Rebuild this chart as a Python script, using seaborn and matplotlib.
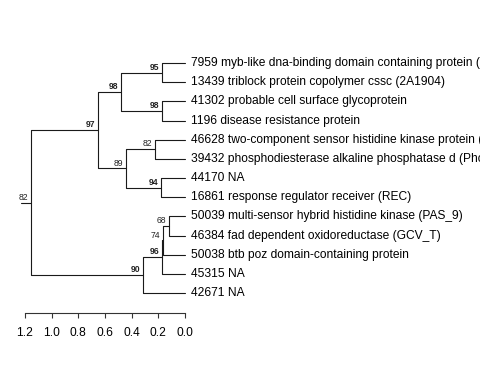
import numpy as np
import pandas as pd
import matplotlib
matplotlib.use('Agg')
import matplotlib.pyplot as plt
import seaborn as sns

# Feuilles (de haut en bas)
leaf_labels = [
    "7959 myb-like dna-binding domain containing protein (Myb_DNA-binding)",
    "13439 triblock protein copolymer cssc (2A1904)",
    "41302 probable cell surface glycoprotein",
    "1196 disease resistance protein",
    "46628 two-component sensor histidine kinase protein (HisKA)",
    "39432 phosphodiesterase alkaline phosphatase d (PhoD)",
    "44170 NA",
    "16861 response regulator receiver (REC)",
    "50039 multi-sensor hybrid histidine kinase (PAS_9)",
    "46384 fad dependent oxidoreductase (GCV_T)",
    "50038 btb poz domain-containing protein",
    "45315 NA",
    "42671 NA",
]

# Noeuds internes : enfants ('L' = feuille, 'N' = noeud), hauteur, support
node_names = ["n95", "n98b", "n98a", "n82", "n94", "n89", "n97",
              "n68", "n74", "n96", "n90", "root"]
node_children = [
    [("L", 0), ("L", 1)],
    [("L", 2), ("L", 3)],
    [("N", "n95"), ("N", "n98b")],
    [("L", 4), ("L", 5)],
    [("L", 6), ("L", 7)],
    [("N", "n82"), ("N", "n94")],
    [("N", "n98a"), ("N", "n89")],
    [("L", 8), ("L", 9)],
    [("N", "n68"), ("L", 10)],
    [("N", "n74"), ("L", 11)],
    [("N", "n96"), ("L", 12)],
    [("N", "n97"), ("N", "n90")],
]
node_height = [0.17, 0.17, 0.48, 0.223, 0.18, 0.443, 0.65,
               0.118, 0.163, 0.175, 0.313, 1.157]
node_support = [95, 98, 98, 82, 94, 89, 97, 68, 74, 96, 90, 82]
root_edge = 0.075

scale_ticks = [1.2, 1.0, 0.8, 0.6, 0.4, 0.2, 0.0]

# ============================================
# Positions des noeuds
# ============================================
pos = {}
for name, kids, h in zip(node_names, node_children, node_height):
    ys = []
    for kind, ref in kids:
        ys.append(float(ref) if kind == "L" else pos[ref][1])
    pos[name] = (h, np.mean(ys))

segs = []
k = 0
for name, kids in zip(node_names, node_children):
    px, py = pos[name]
    for kind, ref in kids:
        cx, cy = (0.0, float(ref)) if kind == "L" else pos[ref]
        segs += [(px, py, k), (px, cy, k), (cx, cy, k)]
        k += 1
rx, ry = pos["root"]
segs += [(rx + root_edge, ry, k), (rx, ry, k)]
df = pd.DataFrame(segs, columns=["x", "y", "seg"])

# ============================================
# Figure
# ============================================
sns.set_theme(style="white")
plt.rcParams['font.family'] = ['Liberation Sans', 'DejaVu Sans']

fig = plt.figure(figsize=(4.8, 3.84), dpi=100)
ax = fig.add_axes([0, 0, 1, 1])
sns.lineplot(data=df, x="x", y="y", units="seg", estimator=None, sort=False,
             color="#1a1a1a", lw=0.8, legend=False, ax=ax)
ax.set_xlim(1.3875, -2.2125)
ax.set_ylim(16.745, -3.286)
ax.axis("off")

for i, lab in enumerate(leaf_labels):
    ax.annotate(lab, (0.0, i), xytext=(4.5, 0), textcoords="offset points",
                ha="left", va="center", fontsize=8.65, color="black",
                annotation_clip=False)

for name, sup in zip(node_names, node_support):
    x, y = pos[name]
    ax.annotate(str(sup), (x, y), xytext=(-2.0, 2.0), textcoords="offset points",
                ha="right", va="baseline", fontsize=6.2,
                fontweight="bold" if sup >= 90 else "normal", color="#222222")

# Echelle
ax2 = fig.add_axes([0, 0.184, 1, 0.05])
ax2.set_xlim(1.3875, -2.2125)
ax2.patch.set_visible(False)
for s in ["top", "left", "right"]:
    ax2.spines[s].set_visible(False)
ax2.spines["bottom"].set_bounds(min(scale_ticks), max(scale_ticks))
ax2.spines["bottom"].set_color("#333333")
ax2.spines["bottom"].set_linewidth(0.8)
ax2.set_yticks([])
ax2.set_xticks(scale_ticks)
ax2.set_xticklabels([f"{t:.1f}" for t in scale_ticks])
ax2.tick_params(axis="x", bottom=True, direction="out", length=3.6, width=0.8,
                color="#333333", pad=6, labelsize=8.65, labelcolor="black")

fig.savefig("out.png", dpi=100)
